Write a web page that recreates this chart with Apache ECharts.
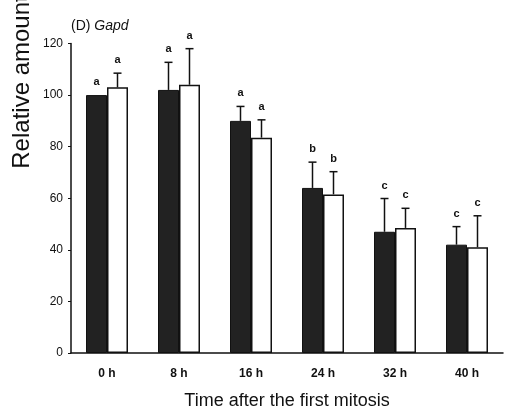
<!DOCTYPE html>
<html>
<head>
<meta charset="utf-8">
<script src="https://cdn.jsdelivr.net/npm/echarts@6/dist/echarts.min.js"></script>
<style>
html,body{margin:0;padding:0;background:#fff;}
#chart{width:509px;height:415px;}
</style>
</head>
<body>
<div id="chart"></div>
<script>
var categories = ['0 h', '8 h', '16 h', '24 h', '32 h', '40 h'];
var yTicks = [0, 20, 40, 60, 80, 100, 120];
var blackValues = [100, 102, 90, 64, 47, 42];
var blackErrors = [0, 10.7, 5.6, 10, 12.9, 7];
var blackLetters = ['a', 'a', 'a', 'b', 'c', 'c'];
var whiteValues = [103, 104, 83.5, 61.5, 48.5, 41];
var whiteErrors = [5.5, 14, 6.9, 8.8, 7.6, 12.2];
var whiteLetters = ['a', 'a', 'a', 'b', 'c', 'c'];

var FONT = '"Liberation Sans", Arial, sans-serif';
var BAR_W = 21;

function errData(values, errs, letters) {
  return values.map(function (v, i) { return [i, v, errs[i], letters[i]]; });
}

function makeRender(offset) {
  return function (params, api) {
    var i = api.value(0), v = api.value(1), e = api.value(2);
    var letter = api.value(3);
    var base = api.coord([i, v]);
    var top = api.coord([i, v + e]);
    var x = base[0] + offset;
    var children = [];
    if (e > 0) {
      children.push({ type: 'line', shape: { x1: x, y1: base[1], x2: x, y2: top[1] }, style: { stroke: '#111', lineWidth: 1.5 } });
      children.push({ type: 'line', shape: { x1: x - 4, y1: top[1], x2: x + 4, y2: top[1] }, style: { stroke: '#111', lineWidth: 1.5 } });
    }
    children.push({ type: 'text', style: { text: String(letter), x: x, y: top[1] - 13, align: 'center', verticalAlign: 'middle', font: 'bold 11px ' + FONT, fill: '#111' } });
    return { type: 'group', children: children };
  };
}

var chart = echarts.init(document.getElementById('chart'));
chart.setOption({
  animation: false,
  backgroundColor: '#fff',
  title: {
    left: 66, top: 14,
    text: '{n|(D) }{i|Gapd}',
    textStyle: {
      fontWeight: 'normal',
      rich: {
        n: { fontSize: 14, fontFamily: FONT, fontWeight: 'normal', color: '#111' },
        i: { fontSize: 14, fontFamily: FONT, fontWeight: 'normal', fontStyle: 'italic', color: '#111' }
      }
    }
  },
  graphic: [{
    type: 'text', x: 22, y: 82, rotation: Math.PI / 2,
    style: { text: 'Relative amount', font: '24px ' + FONT, fill: '#111', align: 'center', verticalAlign: 'middle' }
  }],
  grid: { left: 71, right: 6, top: 43.5, bottom: 61 },
  xAxis: {
    type: 'category', data: categories,
    axisLine: { lineStyle: { color: '#111', width: 1.5 } },
    axisTick: { inside: true, length: 4, lineStyle: { color: '#111', width: 1.2 } },
    axisLabel: { fontSize: 12, fontWeight: 'bold', fontFamily: FONT, color: '#111', margin: 15 },
    name: 'Time after the first mitosis', nameLocation: 'middle', nameGap: 39,
    nameTextStyle: { fontSize: 18, fontFamily: FONT, color: '#111' }
  },
  yAxis: {
    type: 'value', min: yTicks[0], max: yTicks[yTicks.length - 1], interval: 20,
    axisLine: { show: true, lineStyle: { color: '#111', width: 1.5 } },
    axisTick: { show: true, length: 3, lineStyle: { color: '#111' } },
    axisLabel: { fontSize: 12, fontFamily: FONT, color: '#111', margin: 8 },
    splitLine: { show: false }
  },
  series: [
    { type: 'bar', data: blackValues, barWidth: BAR_W, barGap: '0%', itemStyle: { color: '#222', borderColor: '#111', borderWidth: 1 }, z: 2 },
    { type: 'bar', data: whiteValues, barWidth: BAR_W, barGap: '0%', itemStyle: { color: '#fff', borderColor: '#111', borderWidth: 1.5 }, z: 2 },
    { type: 'custom', data: errData(blackValues, blackErrors, blackLetters), renderItem: makeRender(-BAR_W / 2), z: 3 },
    { type: 'custom', data: errData(whiteValues, whiteErrors, whiteLetters), renderItem: makeRender(BAR_W / 2), z: 3 }
  ]
});
</script>
</body>
</html>
